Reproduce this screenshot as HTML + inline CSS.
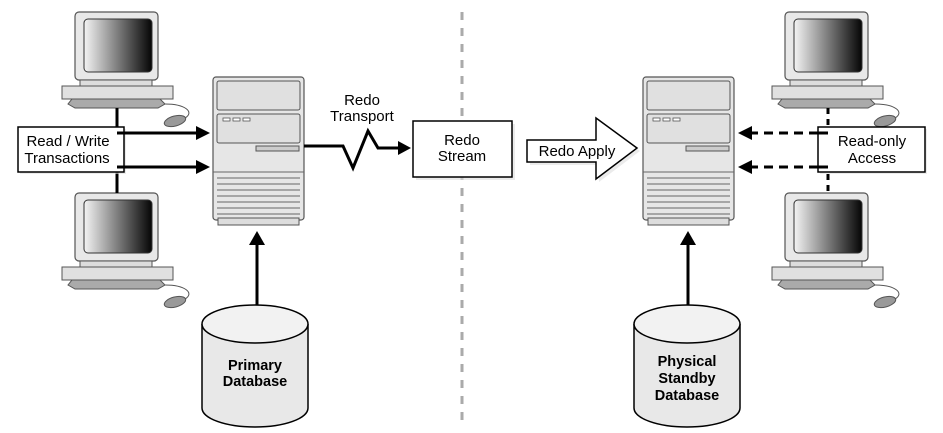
<!DOCTYPE html>
<html><head><meta charset="utf-8"><style>
html,body{margin:0;padding:0;background:#fff}
svg{display:block}
text{font-family:"Liberation Sans",Arial,sans-serif;fill:#000}
</style></head><body>
<svg width="943" height="433" viewBox="0 0 943 433" xmlns="http://www.w3.org/2000/svg">
<defs>
<linearGradient id="scr" x1="0" x2="1" y1="0" y2="0">
<stop offset="0" stop-color="#f4f4f4"/><stop offset="0.45" stop-color="#888"/><stop offset="1" stop-color="#050505"/>
</linearGradient>
<g id="pc">
<rect x="75" y="12" width="83" height="68" rx="4" fill="#e8e8e8" stroke="#555" stroke-width="1.2"/>
<rect x="84" y="19" width="68" height="53" rx="4" fill="url(#scr)" stroke="#333" stroke-width="1"/>
<rect x="80" y="80" width="72" height="6" fill="#ddd" stroke="#555" stroke-width="1"/>
<rect x="62" y="86" width="111" height="13" fill="#e0e0e0" stroke="#555" stroke-width="1"/>
<polygon points="72,99 160,99 165,104 158,108 75,108 68,104" fill="#aaa" stroke="#555" stroke-width="1"/>
<path d="M165,104 C185,104 195,112 185,118" fill="none" stroke="#555" stroke-width="1"/>
<ellipse cx="175" cy="121" rx="11" ry="5" transform="rotate(-15 175 121)" fill="#999" stroke="#555" stroke-width="1"/>
</g>
<g id="srv">
<rect x="0" y="0" width="91" height="143" rx="3" fill="#e6e6e6" stroke="#555" stroke-width="1.2"/>
<rect x="5" y="141" width="81" height="7" fill="#ddd" stroke="#555" stroke-width="1"/>
<rect x="4" y="4" width="83" height="29" rx="2" fill="#e0e0e0" stroke="#555" stroke-width="1"/>
<rect x="4" y="37" width="83" height="29" rx="2" fill="#e0e0e0" stroke="#555" stroke-width="1"/>
<rect x="10" y="41" width="7" height="3" fill="#fff" stroke="#555" stroke-width="0.8"/>
<rect x="20" y="41" width="7" height="3" fill="#fff" stroke="#555" stroke-width="0.8"/>
<rect x="30" y="41" width="7" height="3" fill="#fff" stroke="#555" stroke-width="0.8"/>
<rect x="43" y="69" width="43" height="5" fill="#ccc" stroke="#555" stroke-width="1"/>
<g stroke="#666" stroke-width="1">
<line x1="0" y1="95" x2="91" y2="95"/><line x1="4" y1="101" x2="87" y2="101"/>
<line x1="4" y1="107" x2="87" y2="107"/><line x1="4" y1="113" x2="87" y2="113"/>
<line x1="4" y1="119" x2="87" y2="119"/><line x1="4" y1="125" x2="87" y2="125"/>
<line x1="4" y1="131" x2="87" y2="131"/><line x1="4" y1="137" x2="87" y2="137"/>
</g>
</g>
</defs>

<line x1="462" y1="12" x2="462" y2="425" stroke="#aaa" stroke-width="3" stroke-dasharray="8,8"/>

<use href="#pc"/>
<use href="#pc" transform="translate(0,181)"/>
<line x1="117" y1="108" x2="117" y2="193" stroke="#000" stroke-width="3"/>
<rect x="20" y="129" width="106" height="45" fill="#ddd" opacity="0.6"/>
<rect x="18" y="127" width="106" height="45" fill="#fff" stroke="#000" stroke-width="1.5"/>
<text x="68" y="146" font-size="15" text-anchor="middle">Read / Write</text>
<text x="67" y="163" font-size="15" text-anchor="middle">Transactions</text>
<line x1="117" y1="133" x2="198" y2="133" stroke="#000" stroke-width="3"/>
<polygon points="196,126 210,133 196,140" fill="#000"/>
<line x1="117" y1="167" x2="198" y2="167" stroke="#000" stroke-width="3"/>
<polygon points="196,160 210,167 196,174" fill="#000"/>
<use href="#srv" transform="translate(213,77)"/>
<line x1="257" y1="307" x2="257" y2="244" stroke="#000" stroke-width="3"/>
<polygon points="249,245 257,231 265,245" fill="#000"/>
<path d="M202,324 L202,408 A53,19 0 0 0 308,408 L308,324" fill="#e8e8e8" stroke="#000" stroke-width="1.5"/>
<ellipse cx="255" cy="324" rx="53" ry="19" fill="#f2f2f2" stroke="#000" stroke-width="1.5"/>
<text x="255" y="370" font-size="14.5" font-weight="bold" text-anchor="middle">Primary</text>
<text x="255" y="386" font-size="14.5" font-weight="bold" text-anchor="middle">Database</text>

<text x="362" y="105" font-size="15" text-anchor="middle">Redo</text>
<text x="362" y="121" font-size="15" text-anchor="middle">Transport</text>
<polyline points="304,146 343,146 353,168 368,131 378,148 400,148" fill="none" stroke="#000" stroke-width="3"/>
<polygon points="398,141 411,148 398,155" fill="#000"/>
<rect x="416" y="124" width="99" height="56" fill="#ddd" opacity="0.6"/>
<rect x="413" y="121" width="99" height="56" fill="#fff" stroke="#000" stroke-width="1.5"/>
<text x="462" y="145" font-size="15" text-anchor="middle">Redo</text>
<text x="462" y="161" font-size="15" text-anchor="middle">Stream</text>
<polygon points="530,143 599,143 599,121 640,151 599,182 599,165 530,165" fill="#ddd" opacity="0.6"/>
<polygon points="527,140 596,140 596,118 637,148 596,179 596,162 527,162" fill="#fff" stroke="#000" stroke-width="1.5"/>
<text x="577" y="156" font-size="15" text-anchor="middle">Redo Apply</text>

<use href="#srv" transform="translate(643,77)"/>
<use href="#pc" transform="translate(710,0)"/>
<use href="#pc" transform="translate(710,181)"/>
<line x1="828" y1="108" x2="828" y2="193" stroke="#000" stroke-width="3" stroke-dasharray="6,5"/>
<rect x="820" y="129" width="107" height="45" fill="#ddd" opacity="0.6"/>
<rect x="818" y="127" width="107" height="45" fill="#fff" stroke="#000" stroke-width="1.5"/>
<line x1="818" y1="133" x2="828" y2="133" stroke="#000" stroke-width="3"/>
<line x1="818" y1="167" x2="828" y2="167" stroke="#000" stroke-width="3"/>
<text x="872" y="146" font-size="15" text-anchor="middle">Read-only</text>
<text x="872" y="163" font-size="15" text-anchor="middle">Access</text>
<line x1="818" y1="133" x2="750" y2="133" stroke="#000" stroke-width="3" stroke-dasharray="9,6"/>
<polygon points="752,126 738,133 752,140" fill="#000"/>
<line x1="818" y1="167" x2="750" y2="167" stroke="#000" stroke-width="3" stroke-dasharray="9,6"/>
<polygon points="752,160 738,167 752,174" fill="#000"/>
<line x1="688" y1="307" x2="688" y2="244" stroke="#000" stroke-width="3"/>
<polygon points="680,245 688,231 696,245" fill="#000"/>
<path d="M634,324 L634,408 A53,19 0 0 0 740,408 L740,324" fill="#e8e8e8" stroke="#000" stroke-width="1.5"/>
<ellipse cx="687" cy="324" rx="53" ry="19" fill="#f2f2f2" stroke="#000" stroke-width="1.5"/>
<text x="687" y="366" font-size="14.5" font-weight="bold" text-anchor="middle">Physical</text>
<text x="687" y="383" font-size="14.5" font-weight="bold" text-anchor="middle">Standby</text>
<text x="687" y="400" font-size="14.5" font-weight="bold" text-anchor="middle">Database</text>
</svg>
</body></html>
